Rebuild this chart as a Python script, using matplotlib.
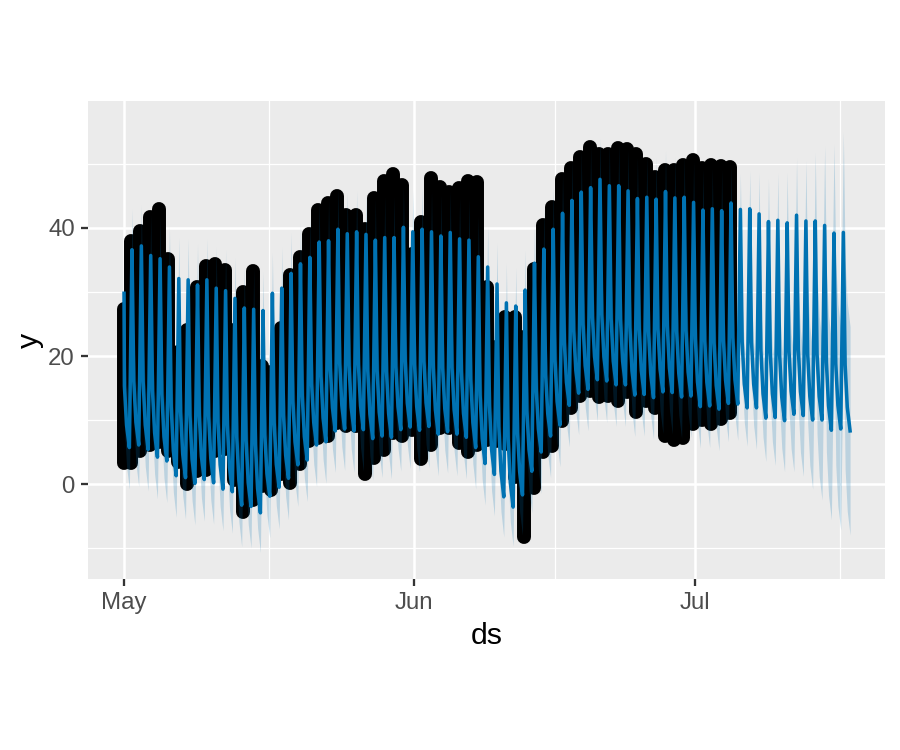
import numpy as np
import pandas as pd
import matplotlib
matplotlib.use('Agg')
import matplotlib.pyplot as plt

plt.rcParams['font.family'] = ['Liberation Sans', 'DejaVu Sans']

start_date = pd.Timestamp('2017-05-01')

# forecast: early decay, late decay, trough, peak per day
yhat_start = 29.8
yhat_mid1 = [15.3, 16.1, 16.0, 14.6, 14.0, 12.1, 11.3, 10.7, 10.7, 10.6,
             9.6, 9.2, 7.4, 6.8, 6.1, 7.7, 9.5, 10.8, 12.9, 13.8,
             15.7, 16.9, 18.1, 18.9, 18.5, 18.7, 17.7, 17.7, 17.6, 18.4,
             19.2, 18.7, 19.2, 18.2, 18.2, 18.2, 17.6, 16.4, 13.9, 12.2,
             9.0, 7.0, 8.1, 11.4, 14.8, 17.1, 19.4, 22.2, 24.1, 25.0,
             26.2, 26.5, 25.8, 25.8, 24.5, 24.2, 23.8, 24.3, 24.7, 23.9,
             24.0, 22.7, 22.4, 22.0, 22.5, 22.9, 22.2, 22.2, 20.9, 20.6,
             20.2, 20.8, 21.0, 20.3, 20.3, 19.0, 18.8, 18.6]
yhat_mid2 = [9.2, 9.7, 9.2, 8.0, 7.4, 5.2, 4.7, 3.9, 4.3, 4.0,
             3.0, 2.6, 0.6, 0.2, -0.7, 1.6, 3.1, 4.5, 6.6, 7.4,
             9.6, 10.3, 11.9, 12.3, 12.0, 12.2, 10.9, 11.2, 11.0, 12.1,
             12.6, 12.1, 12.7, 11.6, 11.8, 11.6, 11.0, 9.6, 7.1, 5.4,
             2.0, 0.2, 1.9, 5.4, 8.6, 11.0, 12.9, 15.9, 17.8, 18.5,
             19.9, 19.9, 19.2, 19.2, 17.7, 17.7, 17.2, 18.0, 18.1, 17.3,
             17.5, 15.9, 15.9, 15.4, 16.2, 16.3, 15.6, 15.6, 14.1, 14.1,
             13.6, 14.5, 14.4, 13.7, 13.7, 12.2, 12.3, 12.0]
yhat_low = [5.7, 6.1, 5.4, 4.2, 3.6, 1.3, 1.0, 0.1, 0.7, 0.2,
            -0.8, -1.2, -3.3, -3.5, -4.5, -1.9, -0.5, 0.9, 3.0, 3.75,
            6.1, 6.6, 8.3, 8.6, 8.3, 8.5, 7.1, 7.5, 7.3, 8.5,
            8.9, 8.4, 9.0, 7.8, 8.2, 7.8, 7.3, 5.7, 3.2, 1.5,
            -2.0, -3.6, -1.7, 2.0, 5.0, 7.5, 9.2, 12.3, 14.2, 14.8,
            16.3, 16.1, 15.5, 15.5, 13.9, 14.0, 13.5, 14.4, 14.3, 13.6,
            13.75, 12.1, 12.2, 11.7, 12.6, 12.5, 11.9, 11.9, 10.3, 10.4,
            9.9, 10.9, 10.7, 10.0, 10.0, 8.4, 8.6, 8.3]
yhat_high = [36.6, 37.2, 35.7, 35.2, 33.9, 32.1, 31.9, 31.1, 31.9, 30.6,
             30.2, 29.0, 27.5, 27.3, 27.1, 29.8, 30.6, 32.9, 34.4, 35.4,
             37.8, 38.0, 39.8, 39.1, 39.4, 39.0, 38.1, 38.5, 38.5, 40.1,
             39.4, 39.8, 39.4, 38.75, 39.3, 38.3, 38.1, 35.5, 33.9, 31.25,
             28.3, 27.8, 30.3, 34.5, 36.7, 39.8, 42.3, 44.3, 45.6, 46.3,
             47.6, 46.6, 46.6, 45.8, 44.6, 44.8, 44.5, 45.7, 44.7, 44.8,
             44.0, 42.8, 43.0, 42.7, 43.9, 42.9, 43.0, 42.2, 41.0, 41.2,
             40.8, 42.0, 41.1, 41.1, 40.4, 39.2, 39.3]
band_half = [6.5, 6.5, 6.5, 6.5, 6.5, 6.5, 6.5, 6.5, 6.5, 6.5,
             6.5, 6.5, 6.5, 6.5, 6.2, 6.5, 6.5, 6.5, 6.5, 6.5,
             6.5, 6.5, 6.5, 6.5, 6.5, 6.5, 6.5, 6.5, 6.5, 6.5,
             6.5, 6.5, 6.5, 6.5, 6.5, 6.5, 6.5, 6.5, 6.5, 6.5,
             6.3, 6.1, 6.3, 6.5, 6.5, 6.5, 6.5, 6.5, 6.5, 6.5,
             6.5, 6.5, 6.5, 6.5, 6.5, 6.5, 6.5, 6.5, 6.5, 6.5,
             6.5, 6.5, 6.5, 6.5, 6.0, 5.7, 6.0, 6.5, 6.8, 7.5,
             8.0, 9.0, 9.5, 10.8, 12.5, 14.0, 15.8, 16.3]

obs_start = 27.4
obs_low = [3.3, 5.1, 6.1, 6.5, 5.1, 3.5, 0.0, 2.0, 2.2, 5.1,
           5.5, 0.7, -4.3, -2.5, -0.3, -0.9, 1.5, 0.2, 3.1, 6.7,
           7.2, 7.5, 9.5, 9.0, 9.0, 1.6, 4.1, 5.3, 8.0, 7.5,
           8.5, 3.9, 6.1, 8.8, 8.8, 6.4, 5.0, 6.1, 6.9, 6.7,
           6.3, 1.1, -8.3, -0.6, 5.0, 5.9, 9.8, 11.9, 13.7, 14.5,
           13.6, 13.8, 13.0, 14.3, 11.2, 12.9, 11.9, 7.5, 6.8, 7.2,
           9.3, 10.0, 9.3, 10.2, 11.1]
obs_high = [37.9, 39.5, 41.7, 42.9, 35.2, 20.6, 24.1, 30.8, 34.0, 34.3,
            33.5, 24.0, 30.0, 33.3, 18.5, 17.5, 24.4, 32.6, 35.5, 39.0,
            42.8, 43.9, 45.0, 42.1, 42.1, 39.9, 44.7, 47.4, 48.5, 46.7,
            36.0, 40.9, 47.8, 46.4, 45.6, 46.3, 47.3, 47.2, 30.8, 21.4,
            26.1, 26.1, 23.0, 33.6, 40.4, 43.3, 47.7, 49.4, 51.1, 52.7,
            51.5, 51.5, 52.5, 52.4, 51.6, 50.0, 48.0, 49.0, 49.0, 49.8,
            50.6, 49.4, 49.8, 49.7, 49.5]

month_ticks = ['2017-05-01', '2017-06-01', '2017-07-01']
month_labels = ['May', 'Jun', 'Jul']
minor_x_days = [15.5, 46, 76.5]
major_y = [0, 20, 40]
minor_y = [-10, 10, 30, 50]


def to_dates(days):
    return start_date + pd.to_timedelta(np.asarray(days, dtype=float), unit='D')


fc_days, fc_vals, fc_half = [0.0], [yhat_start], [band_half[0]]
for k in range(len(yhat_low)):
    fc_days += [k + 0.04, k + 0.27, k + 0.57]
    fc_vals += [yhat_mid1[k], yhat_mid2[k], yhat_low[k]]
    fc_half += [band_half[k]] * 3
    if k < len(yhat_high):
        fc_days.append(k + 0.85)
        fc_vals.append(yhat_high[k])
        fc_half.append(band_half[k])
fc_vals = np.array(fc_vals)
fc_half = np.array(fc_half)

# one column of points per day, hourly dots merge into a solid column
col_days = [0.0] + [k + 0.75 for k in range(len(obs_low))]
col_low = [obs_low[0]] + obs_low
col_high = [obs_start] + obs_high

fig = plt.figure(figsize=(6, 5), dpi=150)
ax = fig.add_axes([88 / 900, 1 - 579 / 750, (885 - 88) / 900, (579 - 101) / 750])
ax.set_facecolor('#EBEBEB')
for s in ax.spines.values():
    s.set_visible(False)

ax.set_axisbelow(True)
for v in minor_x_days:
    ax.axvline(to_dates([v])[0], color='white', lw=0.6, zorder=0.5)
for v in minor_y:
    ax.axhline(v, color='white', lw=0.6, zorder=0.5)
for v in month_ticks:
    ax.axvline(pd.Timestamp(v), color='white', lw=1.2, zorder=0.6)
for v in major_y:
    ax.axhline(v, color='white', lw=1.2, zorder=0.6)

ax.vlines(to_dates(col_days), col_low, col_high, color='black', lw=6.7,
          capstyle='round', zorder=2)
ax.fill_between(to_dates(fc_days), fc_vals - fc_half, fc_vals + fc_half,
                color='#0072B2', alpha=0.2, lw=0, zorder=3)
ax.plot(to_dates(fc_days), fc_vals, color='#0072B2', lw=1.7, zorder=4,
        solid_joinstyle='round')

ax.set_xlim(to_dates([-3.85])[0], to_dates([81.3])[0])
ax.set_ylim(-14.84, 59.84)
ax.set_xticks([pd.Timestamp(v) for v in month_ticks])
ax.set_xticklabels(month_labels)
ax.set_yticks(major_y)
ax.tick_params(length=3.3, width=1.1, color='#333333', labelcolor='#4D4D4D',
               labelsize=11.5, pad=3)
ax.set_xlabel('ds', fontsize=14.5, color='black', labelpad=4)
ax.set_ylabel('y', fontsize=14.5, color='black', labelpad=2)

fig.savefig('out.png', dpi=150)
